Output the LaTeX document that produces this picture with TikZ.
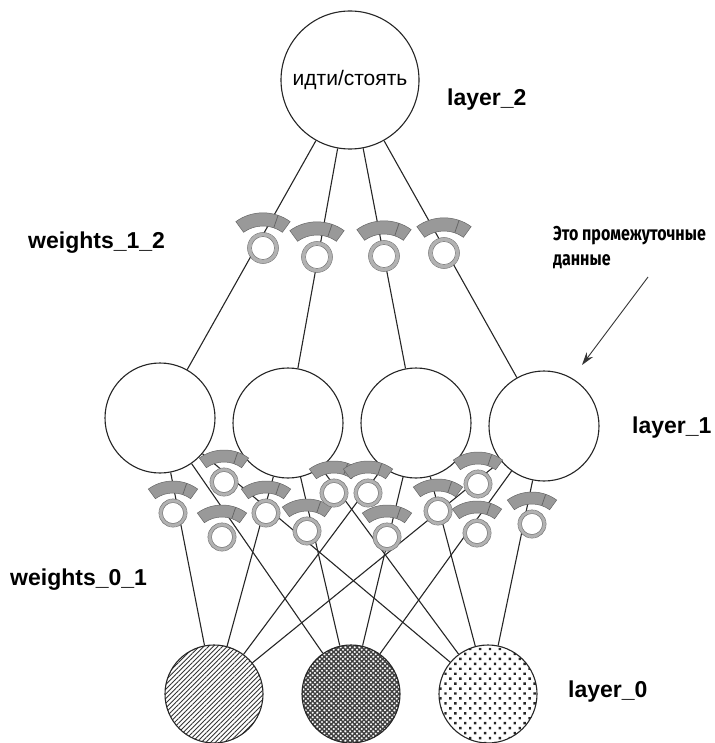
\documentclass[tikz,border=0pt]{standalone}
\usepackage{fontspec}
\setmainfont{Liberation Sans}
\newfontfamily\condfont[FakeStretch=0.8]{Fira Sans}
\usetikzlibrary{patterns.meta,arrows.meta}
\definecolor{gaugefill}{gray}{0.6}
\definecolor{gaugeedge}{gray}{0.4}
\definecolor{ringfill}{gray}{0.7}
\definecolor{ringedge}{gray}{0.45}
\begin{document}
\begin{tikzpicture}[x=1pt,y=-1pt,
  neuron/.style={circle,draw=black!85,line width=1.1pt,fill=white,inner sep=0pt},
  conn/.style={draw=black!85,line width=1.1pt},
  lbl/.style={font=\fontsize{23}{27}\selectfont\bfseries,anchor=west,inner sep=0pt},
  gauge/.pic={
    \begin{scope}[shift={(0,10)}]
      \filldraw[fill=gaugefill,draw=gaugeedge,line width=0.5pt]
        (-54:42) arc[start angle=-54,end angle=-126,radius=42]
        -- (-126:30) arc[start angle=-126,end angle=-54,radius=30] -- cycle;
      \draw[gaugeedge,line width=0.8pt] (-71:30) -- (-71:42);
    \end{scope}
    \draw[draw=ringfill,line width=3.6pt,fill=white] (0,0) circle[radius=12.3];
    \draw[ringedge,line width=0.5pt] (0,0) circle[radius=14.1] (0,0) circle[radius=10.5];
  }
]
\useasboundingbox (0,0) rectangle (714,743);

% layer 2
\node[neuron,minimum size=138pt] (L2) at (350,80) {\fontsize{21}{25}\selectfont идти/стоять};
% layer 1
\node[neuron,minimum size=110pt] (A1) at (160,418) {};
\node[neuron,minimum size=110pt] (A2) at (288,423) {};
\node[neuron,minimum size=110pt] (A3) at (416,423) {};
\node[neuron,minimum size=110pt] (A4) at (544,426) {};
% layer 0
\node[circle,draw=black!85,line width=1.1pt,inner sep=0pt,minimum size=98pt,
  pattern={Lines[angle=45,distance=3.3pt,line width=0.9pt]},pattern color=black!80] (B1) at (214,694) {};
\node[circle,draw=black!85,line width=1.1pt,inner sep=0pt,minimum size=98pt,
  pattern={Hatch[angle=45,distance=3.3pt,line width=1.4pt]},pattern color=black!75] (B2) at (351,694) {};
\node[circle,draw=black!85,line width=1.1pt,inner sep=0pt,minimum size=98pt,
  pattern={Dots[angle=45,distance=7pt,radius=1.7pt]},pattern color=black!85] (B3) at (488,694) {};

% connectors layer2 -> layer1
\foreach \n in {A1,A2,A3,A4} \draw[conn] (L2) -- (\n);
% connectors layer1 -> layer0
\foreach \a in {A1,A2,A3,A4} \foreach \b in {B1,B2,B3} \draw[conn] (\a) -- (\b);

% weights 1_2
\foreach \p in {(263,248),(317,257),(384,256),(444,253)} \pic[scale=1.1] at \p {gauge};
% weights 0_1
\foreach \p in {(173,513),(224,482),(222,537),(266,513),(307,531),(334,493),
                (368,493),(387,537),(438,511),(478,484),(477,533),(532,524)}
  \pic at \p {gauge};

% labels
\node[lbl] (t2) at (447,100) {layer\_2};
\node[lbl] (t12) at (28,243) {weights\_1\_2};
\node[lbl] (t1) at (632,428) {layer\_1};
\node[lbl] (t01) at (10,580) {weights\_0\_1};
\node[lbl] (t0) at (568,692) {layer\_0};

% annotation
\node[anchor=north west,inner sep=0pt,align=left,
  font=\condfont\bfseries\fontsize{20}{25}\selectfont] (note) at (553,226) {Это промежуточные\\данные};
\coordinate (arS) at (648,277);
\coordinate (arE) at (582,365);
\draw[-{Stealth[length=13pt,width=8pt]},line width=0.9pt,black!80] (arS) -- (arE);
\end{tikzpicture}
\end{document}
